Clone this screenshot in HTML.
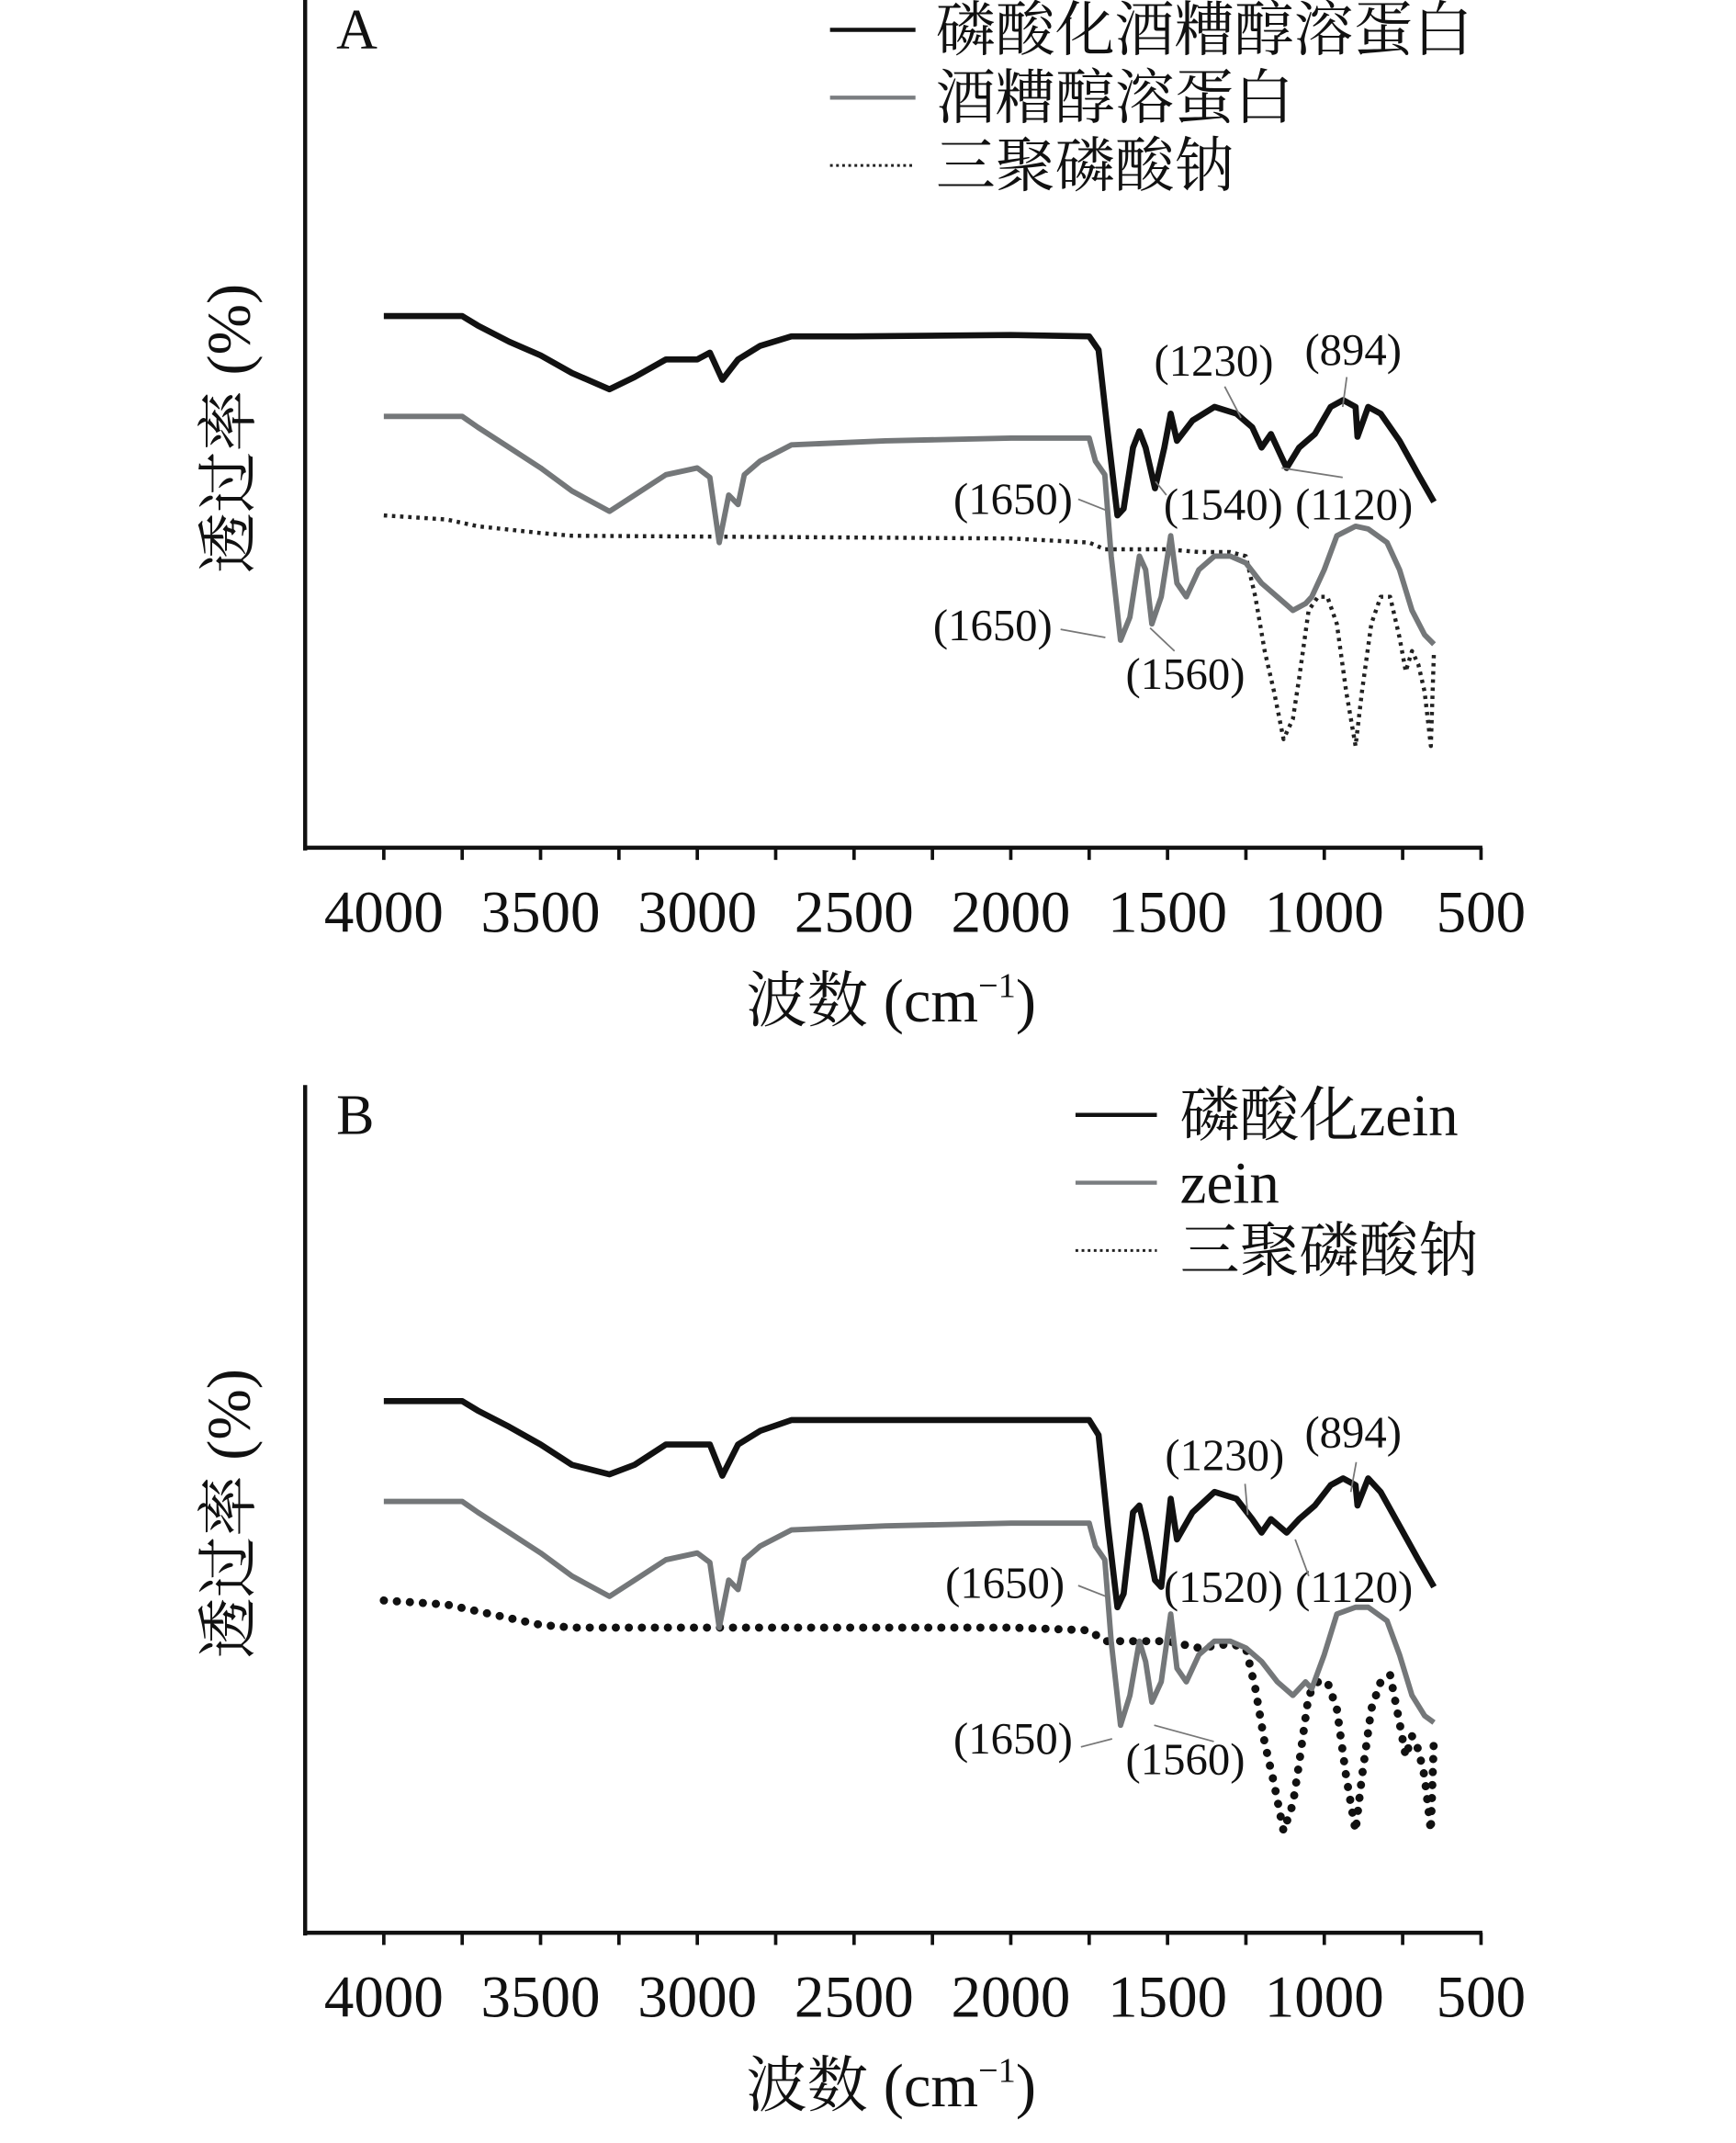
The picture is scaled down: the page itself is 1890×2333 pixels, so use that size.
<!DOCTYPE html>
<html><head><meta charset="utf-8"><style>
html,body{margin:0;padding:0;background:#fff;}
svg{display:block;}
text{font-family:"Liberation Serif","Noto Serif CJK SC","Noto Sans CJK SC",serif;fill:#111;}
</style></head><body>
<svg id="chart" width="1890" height="2333" viewBox="0 0 1280 1580" xmlns="http://www.w3.org/2000/svg"></svg>
<script>
// shared axis data
const xTicks=[4000,3500,3000,2500,2000,1500,1000,500];
const xMinorTicks=[3750,3250,2750,2250,1750,1250,750];
// Panel A data (wavenumber, transmittance arb. units)
const aBlackX=[4000,3750,3700,3600,3500,3400,3280,3200,3100,3000,2960,2920,2870,2800,2700,2500,2000,1750,1720,1690,1660,1640,1610,1590,1570,1540,1510,1490,1470,1420,1350,1280,1230,1200,1170,1120,1080,1030,980,940,900,894,860,820,760,700,650];
const aBlackY=[78.4,78.4,77,74.6,72.6,70,67.6,69.4,72,72,73,69,72,74,75.4,75.4,75.6,75.4,73.4,61,49,50,59,61.4,59,53,59,64,60,63,65,64,62,59,61,56,59,61,65,66,65,60.6,65,64,60,55,51];
const aGrayX=[4000,3750,3700,3600,3500,3400,3280,3200,3100,3000,2960,2930,2900,2870,2850,2800,2700,2400,2000,1750,1730,1700,1680,1650,1620,1590,1570,1550,1520,1490,1470,1440,1400,1350,1300,1250,1200,1150,1100,1060,1040,1000,960,900,860,800,760,720,680,650];
const aGrayY=[63.6,63.6,62,59,56,52.6,49.6,52,55,56,54.6,45,52,50.6,55,57,59.4,60,60.4,60.4,57,55,43,30.6,34,43,41,33,37,46,39,37,41,43,43,42,39,37,35,36,37,41,46,47.4,47,45,41,35,31.4,30];
const aDotX=[4000,3800,3700,3500,3400,2000,1750,1700,1500,1400,1300,1250,1220,1190,1160,1130,1100,1080,1050,1020,990,960,930,900,880,850,820,790,760,740,720,700,680,660,650];
const aDotY=[49,48.4,47.4,46.4,46,45.6,45,44,44,43.6,43.6,43,37,29,23,16,19,25,35,37,37,33,23,15,23,33,37,37,31,26,29,27,23,15,29];
// Panel B data
const bBlackX=[4000,3750,3700,3600,3500,3400,3280,3200,3100,3000,2960,2920,2870,2800,2700,2500,2000,1750,1720,1690,1660,1640,1610,1590,1570,1540,1520,1490,1470,1420,1350,1280,1230,1200,1170,1120,1080,1030,980,940,900,894,860,820,760,700,650];
const bBlackY=[78.4,78.4,77,74.6,72,69,67.6,69,72,72,72,67.4,72,74,75.6,75.6,75.6,75.6,73.4,60,48,50,62,63,59,52,51,64,58,62,65,64,61,59,61,59,61,63,66,67,66,63,67,65,60,55,51];
const bGrayX=[4000,3750,3700,3600,3500,3400,3280,3200,3100,3000,2960,2930,2900,2870,2850,2800,2700,2400,2000,1750,1730,1700,1680,1650,1620,1590,1570,1550,1520,1490,1470,1440,1400,1350,1300,1250,1200,1150,1100,1060,1040,1000,960,900,860,800,760,720,680,650];
const bGrayY=[63.6,63.6,62,59,56,52.6,49.6,52,55,56,54.6,45,52,50.6,55,57,59.4,60,60.4,60.4,57,55,43,30.6,35,43,40,34,37,47,39,37,41,43,43,42,40,37,35,37,36,41,47,48,48,46,41,35,32,31];
const bDotX=[4000,3800,3700,3500,3400,2000,1750,1700,1500,1400,1300,1250,1220,1190,1160,1130,1100,1080,1050,1020,990,960,930,900,880,850,820,790,760,740,720,700,680,660,650];
const bDotY=[49,48.4,47.4,45.4,45,45,44.6,43,43,42,42.6,42,36,28,22,15,19,25,35,37,37,33,23,15,23,33,37,38,31,26,29,27,23,15,29];

const NS="http://www.w3.org/2000/svg";
const svg=document.getElementById('chart');
function mk(tag,attrs,parent){const e=document.createElementNS(NS,tag);for(const k in attrs)e.setAttribute(k,attrs[k]);(parent||svg).appendChild(e);return e;}
function xScale(w){return 283+(4000-w)*(1092-283)/3500;}

function panel(off,letter,legend,bx,by,gx,gy,dx,dy,dotStyle,ann){
  const g=mk('g',{});
  
  
  const yScale=v=>off+625-v*5;
  const ya=mk('line',{x1:225,y1:off,x2:225,y2:off+627,stroke:'#111','stroke-width':3},g);
  
  const xa=mk('line',{x1:224,y1:off+625,x2:1093,y2:off+625,stroke:'#111','stroke-width':3},g);
  
  xTicks.concat(xMinorTicks).forEach(t=>{
    const tk=mk('line',{x1:xScale(t),y1:off+625,x2:xScale(t),y2:off+634,stroke:'#111','stroke-width':2.5},g);
    
  });
  xTicks.forEach(t=>{
    const tl=mk('text',{x:xScale(t),y:off+687,'text-anchor':'middle','font-size':44},g);
    tl.textContent=t;
    
  });
  const xt=mk('text',{x:657,y:off+753,'text-anchor':'middle','font-size':45},g);
  xt.innerHTML='波数 (cm<tspan font-size="26" dy="-18">−1</tspan><tspan dy="18">)</tspan>';
  
  const yt=mk('text',{x:0,y:0,'text-anchor':'middle','font-size':45,transform:`translate(184 ${off+316}) rotate(-90)`},g);
  yt.textContent='透过率 (%)';
  
  const pl=mk('text',{x:248,y:off+36,'font-size':42},g);pl.textContent=letter;
  
  function series(X,Y,attrs,name){
    const d=X.map((w,i)=>(i?'L':'M')+xScale(w).toFixed(1)+' '+yScale(Y[i]).toFixed(1)).join(' ');
    const p=mk('path',Object.assign({d:d,fill:'none','stroke-linejoin':'round'},attrs),g);
    
  }
  series(dx,dy,dotStyle,'series-sodium-tripolyphosphate');
  series(gx,gy,{stroke:'#747779','stroke-width':4},'series-zein');
  series(bx,by,{stroke:'#111','stroke-width':4.5},'series-phosphorylated-zein');
  legend.items.forEach((it,i)=>{
    const y=off+legend.y0+i*50;
    const ln=mk('line',Object.assign({x1:legend.lx1,x2:legend.lx2,y1:y,y2:y},it.style),g);
    
    const tx=mk('text',{x:legend.tx,y:y+15,'font-size':44},g);tx.textContent=it.label;
    
  });
  ann.forEach(a=>{
    const t=mk('text',{x:a[0],y:off+a[1],'font-size':33},g);t.textContent=a[2];
    
    if(a[3]){const l=mk('line',{x1:a[3][0],y1:off+a[3][1],x2:a[3][2],y2:off+a[3][3],stroke:'#777','stroke-width':1.2},g);
      }
  });
}
const thinDot={stroke:'#222','stroke-width':3,'stroke-dasharray':'2.5 3.5'};
const boldDot={stroke:'#111','stroke-width':6,'stroke-dasharray':'0.1 9.5','stroke-linecap':'round'};
panel(0,'A',{y0:22,lx1:612,lx2:675,tx:690,items:[
  {label:'磷酸化酒糟醇溶蛋白',style:{stroke:'#111','stroke-width':3}},
  {label:'酒糟醇溶蛋白',style:{stroke:'#7a7d80','stroke-width':3}},
  {label:'三聚磷酸钠',style:{stroke:'#222','stroke-width':2,'stroke-dasharray':'2 2.5'}}]},
  aBlackX,aBlackY,aGrayX,aGrayY,aDotX,aDotY,thinDot,
  [[851,277,'(1230)',[903,285,915,308]],[962,269,'(894)',[993,278,990,300]],[703,379,'(1650)',[795,368,815,376]],
   [858,383,'(1540)',[860,365,852,355]],[955,383,'(1120)',[990,352,945,345]],[688,472,'(1650)',[782,464,815,470]],[830,508,'(1560)',[866,480,848,463]]]);
panel(800,'B',{y0:22,lx1:793,lx2:853,tx:870,items:[
  {label:'磷酸化zein',style:{stroke:'#111','stroke-width':3}},
  {label:'zein',style:{stroke:'#7a7d80','stroke-width':3}},
  {label:'三聚磷酸钠',style:{stroke:'#222','stroke-width':2,'stroke-dasharray':'2 2.5'}}]},
  bBlackX,bBlackY,bGrayX,bGrayY,bDotX,bDotY,boldDot,
  [[859,284,'(1230)',[918,294,920,317]],[962,267,'(894)',[1000,278,996,300]],[697,378,'(1650)',[795,369,818,378]],
   [858,381,'(1520)',null],[955,381,'(1120)',[955,335,965,362]],[703,493,'(1650)',[797,488,820,482]],[830,508,'(1560)',[851,472,895,484]]]);
</script>
</body></html>
